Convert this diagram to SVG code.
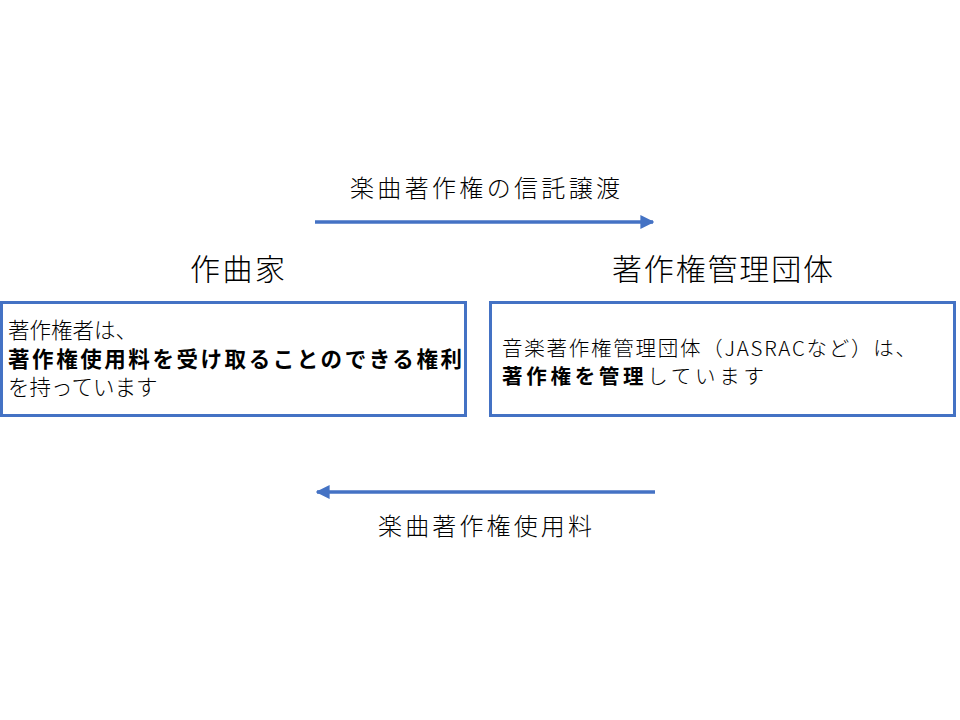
<svg xmlns="http://www.w3.org/2000/svg" width="960" height="720" viewBox="0 0 960 720">
<defs>
<style>
text{font-family:"Noto Sans CJK JP","Noto Sans",sans-serif;fill:#000;font-weight:300}
.b{font-weight:700}
.box{fill:#fff;stroke:#4472C4;stroke-width:3}
.ln{stroke:#4472C4;stroke-width:3.5;fill:none}
</style>
<marker id="ah" viewBox="0 0 10 10" refX="9" refY="5" markerWidth="4" markerHeight="4" orient="auto"><path d="M0,0L10,5L0,10z" fill="#4472C4"/></marker>
</defs>
<rect width="960" height="720" fill="#fff"/>
<g id="composer">
<text x="190" y="280" font-size="30" textLength="95">作曲家</text>
<rect class="box" x="1.5" y="302.5" width="464" height="113"/>
<text x="8" y="338" font-size="21.5">著作権者は、</text>
<text x="8" y="367" font-size="21.5" class="b" textLength="454">著作権使用料を受け取ることのできる権利</text>
<text x="8" y="395" font-size="21.5">を持っています</text>
</g>
<g id="org">
<text x="612" y="280" font-size="30" textLength="221">著作権管理団体</text>
<rect class="box" x="490.5" y="302.5" width="464" height="113"/>
<text x="502" y="356" font-size="20.5" textLength="414">音楽著作権管理団体（JASRACなど）は、</text>
<text x="502" y="384" font-size="20.5" textLength="262"><tspan class="b">著作権を管理</tspan>しています</text>
</g>
<g id="connectors">
<line class="ln" x1="315" y1="222" x2="653" y2="222" marker-end="url(#ah)"/>
<text x="350" y="197" font-size="24" textLength="270">楽曲著作権の信託譲渡</text>
<line class="ln" x1="655" y1="492" x2="317" y2="492" marker-end="url(#ah)"/>
<text x="378" y="535" font-size="24" textLength="214">楽曲著作権使用料</text>
</g>
</svg>
